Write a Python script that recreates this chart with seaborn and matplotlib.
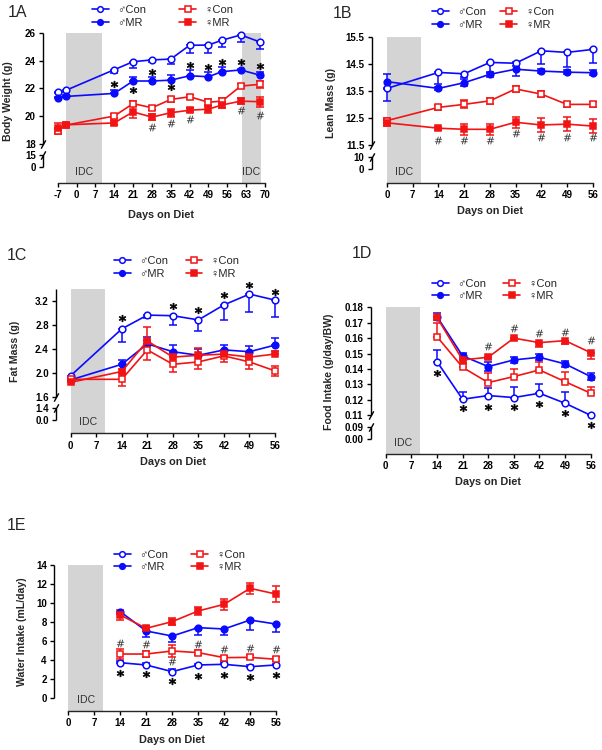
import numpy as np
import matplotlib
matplotlib.use('Agg')
import matplotlib.pyplot as plt
import seaborn as sns

# ---------------- data ----------------
series_names = ['♂Con', '♂MR', '♀Con', '♀MR']

# 1A body weight
days_a = [-7, -4, 14, 21, 28, 35, 42, 49, 54, 61, 68]
a_mcon = [21.76, 21.86, 23.36, 23.94, 24.07, 24.13, 25.13, 25.15, 25.5, 25.88, 25.38]
a_mcon_sem = [0.1, 0.1, 0.25, 0.45, 0.15, 0.35, 0.55, 0.6, 0.5, 0.5, 0.5]
a_mmr = [21.28, 21.42, 21.64, 22.54, 22.54, 22.6, 22.92, 22.85, 23.22, 23.34, 22.97]
a_mmr_sem = [0.1, 0.1, 0.25, 0.3, 0.3, 0.4, 0.4, 0.35, 0.35, 0.1, 0.25]
a_fcon = [18.95, 19.34, 20.0, 20.9, 20.6, 21.2, 21.4, 21.0, 21.08, 22.17, 22.3]
a_fcon_sem = [0.2, 0.1, 0.15, 0.2, 0.15, 0.15, 0.15, 0.2, 0.2, 0.15, 0.25]
a_fmr = [19.1, 19.36, 19.5, 20.3, 19.92, 20.24, 20.42, 20.5, 20.8, 21.08, 21.04]
a_fmr_sem = [0.4, 0.1, 0.15, 0.45, 0.2, 0.3, 0.15, 0.25, 0.25, 0.2, 0.35]
a_star_days = [14, 21, 28, 35, 42, 49, 54, 61, 68]
a_star_vals = [22.32, 21.88, 23.2, 22.08, 23.7, 23.58, 23.94, 23.94, 23.63]
a_hash_days = [28, 35, 42, 61, 68]
a_hash_vals = [19.17, 19.46, 19.75, 20.43, 20.07]

# 1B lean mass
days_b = [0, 14, 21, 28, 35, 42, 49, 56]
b_mcon = [13.59, 14.18, 14.13, 14.55, 14.52, 14.98, 14.92, 15.03]
b_mcon_sem = [0.46, 0.41, 0.1, 0.38, 0.1, 0.49, 0.53, 0.51]
b_mmr = [13.84, 13.59, 13.8, 14.11, 14.3, 14.23, 14.19, 14.17]
b_mmr_sem = [0.27, 0.05, 0.12, 0.1, 0.25, 0.08, 0.08, 0.1]
b_fcon = [12.4, 12.89, 13.0, 13.13, 13.57, 13.38, 13.0, 13.0]
b_fcon_sem = [0.1, 0.1, 0.15, 0.1, 0.1, 0.1, 0.1, 0.1]
b_fmr = [12.32, 12.12, 12.08, 12.08, 12.34, 12.24, 12.27, 12.2]
b_fmr_sem = [0.1, 0.05, 0.2, 0.2, 0.2, 0.25, 0.25, 0.25]
b_hash_days = [14, 21, 28, 35, 42, 49, 56]
b_hash_vals = [11.69, 11.69, 11.69, 11.95, 11.79, 11.79, 11.79]

# 1C fat mass
days_c = [0, 14, 21, 28, 35, 42, 49, 56]
c_mcon = [1.95, 2.73, 2.96, 2.95, 2.88, 3.13, 3.31, 3.21]
c_mcon_sem = [0.05, 0.21, 0.05, 0.16, 0.18, 0.25, 0.3, 0.28]
c_mmr = [1.88, 2.14, 2.48, 2.35, 2.29, 2.38, 2.35, 2.46]
c_mmr_sem = [0.03, 0.07, 0.12, 0.11, 0.1, 0.08, 0.1, 0.12]
c_fcon = [1.89, 1.89, 2.38, 2.14, 2.18, 2.28, 2.18, 2.03]
c_fcon_sem = [0.03, 0.11, 0.16, 0.12, 0.12, 0.1, 0.11, 0.08]
c_fmr = [1.84, 2.02, 2.53, 2.26, 2.29, 2.31, 2.26, 2.31]
c_fmr_sem = [0.03, 0.05, 0.23, 0.06, 0.13, 0.06, 0.05, 0.06]
c_star_days = [14, 28, 35, 42, 49, 56]
c_star_vals = [2.91, 3.11, 3.04, 3.29, 3.46, 3.35]

# 1D food intake
days_d = [14, 21, 28, 35, 42, 49, 56]
d_mcon = [0.1448, 0.1204, 0.1228, 0.1215, 0.1243, 0.1178, 0.1100]
d_mcon_sem = [0.0075, 0.0045, 0.005, 0.0067, 0.006, 0.007, 0.001]
d_mmr = [0.1740, 0.1485, 0.1416, 0.1459, 0.1476, 0.1433, 0.1351]
d_mmr_sem = [0.002, 0.002, 0.003, 0.002, 0.002, 0.002, 0.002]
d_fcon = [0.1610, 0.1411, 0.1312, 0.1351, 0.1394, 0.1318, 0.1243]
d_fcon_sem = [0.0086, 0.002, 0.006, 0.005, 0.0054, 0.0065, 0.004]
d_fmr = [0.1735, 0.1459, 0.1476, 0.1600, 0.1571, 0.1584, 0.1506]
d_fmr_sem = [0.002, 0.002, 0.001, 0.001, 0.003, 0.002, 0.0043]
d_star_days = [14, 21, 28, 35, 42, 49, 56]
d_star_vals = [0.1372, 0.1146, 0.1156, 0.1156, 0.1174, 0.1117, 0.093]
d_hash_days = [28, 35, 42, 49, 56]
d_hash_vals = [0.155, 0.1664, 0.1636, 0.1642, 0.1588]

# 1E water intake
days_e = [14, 21, 28, 35, 42, 49, 56]
e_mcon = [3.74, 3.5, 2.8, 3.5, 3.57, 3.32, 3.5]
e_mcon_sem = [0.15, 0.2, 0.3, 0.15, 0.2, 0.15, 0.15]
e_mmr = [9.1, 7.07, 6.54, 7.42, 7.28, 8.22, 7.8]
e_mmr_sem = [0.2, 0.6, 0.6, 0.77, 0.63, 1.0, 0.8]
e_fcon = [4.65, 4.65, 4.97, 4.8, 4.27, 4.3, 4.1]
e_fcon_sem = [0.5, 0.3, 0.6, 0.3, 0.2, 0.2, 0.2]
e_fmr = [8.75, 7.35, 8.05, 9.17, 9.87, 11.55, 10.95]
e_fmr_sem = [0.55, 0.2, 0.4, 0.4, 0.6, 0.6, 0.8]
e_star_days = [14, 21, 28, 35, 42, 49, 56]
e_star_vals = [2.62, 2.52, 1.82, 2.34, 2.45, 2.27, 2.45]
e_hash_days = [14, 21, 28, 35, 42, 49, 56]
e_hash_vals = [5.77, 5.67, 3.95, 5.67, 5.14, 5.25, 5.14]

ticks_a = [0, 15, 18, 20, 22, 24, 26]
ticklabels_a = ['0', '15', '18', '20', '22', '24', '26']
ticks_b = [0, 10, 11.5, 12.5, 13.5, 14.5, 15.5]
ticklabels_b = ['0', '10', '11.5', '12.5', '13.5', '14.5', '15.5']
ticks_c = [0, 1.4, 1.6, 2.0, 2.4, 2.8, 3.2]
ticklabels_c = ['0.0', '1.4', '1.6', '2.0', '2.4', '2.8', '3.2']
ticks_d = [0, 0.09, 0.11, 0.12, 0.13, 0.14, 0.15, 0.16, 0.17, 0.18]
ticklabels_d = ['0.00', '0.09', '0.11', '0.12', '0.13', '0.14', '0.15', '0.16', '0.17', '0.18']
ticks_e = [0, 2, 4, 6, 8, 10, 12, 14]
ticklabels_e = ['0', '2', '4', '6', '8', '10', '12', '14']

# ---------------- style ----------------
W, H = 602, 750
BLUE = '#0a0aff'
RED = '#f21414'
GREY = '#d4d4d4'

sns.set_style('ticks')
plt.rcParams['font.family'] = ['Liberation Sans', 'DejaVu Sans']
plt.rcParams['axes.linewidth'] = 1.0

styles = {
    '♂Con': dict(color=BLUE, marker='o', mfc='white', ms=4.8),
    '♂MR': dict(color=BLUE, marker='o', mfc=BLUE, ms=4.8),
    '♀Con': dict(color=RED, marker='s', mfc='white', ms=4.4),
    '♀MR': dict(color=RED, marker='s', mfc=RED, ms=4.4),
}

fig = plt.figure(figsize=(W / 100, H / 100), dpi=100)


def make_scale(vals, rows):
    # piecewise linear y scale so that the broken axis segments get their own spacing
    v = np.asarray(vals, float)
    u = -np.asarray(rows, float)
    s0 = (u[1] - u[0]) / (v[1] - v[0])
    s1 = (u[-1] - u[-2]) / (v[-1] - v[-2])
    big = 1000 * (v[-1] - v[0])
    vv = np.r_[v[0] - big, v, v[-1] + big]
    uu = np.r_[u[0] - big * s0, u, u[-1] + big * s1]
    return (lambda y: np.interp(y, vv, uu)), (lambda t: np.interp(t, uu, vv))


def draw_panel(p):
    fwd, inv = make_scale(p['anchor_v'], p['anchor_px'])
    top_px = -float(fwd(p['top']))
    bot_px = p['xaxis_px']
    left_px, right_px = p['spine_px'], p['x1_px']
    ax = fig.add_axes([left_px / W, 1 - bot_px / H,
                       (right_px - left_px) / W, (bot_px - top_px) / H])
    ax.set_yscale('function', functions=(fwd, inv))
    xt = p['xticks']
    ppd = (p['x1_px'] - p['x0_px']) / (xt[-1] - xt[0])
    xlo = xt[0] - (p['x0_px'] - left_px) / ppd

    for x0, x1 in p['idc']:
        ax.axvspan(x0, x1, color=GREY, lw=0, zorder=0)
        ax.annotate('IDC', xy=((x0 + x1) / 2, 0), xycoords=('data', 'axes fraction'),
                    xytext=(0, 8), textcoords='offset points', ha='center', va='center',
                    fontsize=7.6, color='#333333')

    for name, vals, sem, direction in p['series']:
        st = styles[name]
        sem = np.asarray(sem)
        lo = sem if direction in ('lower', 'both') else np.zeros_like(sem)
        hi = sem if direction in ('upper', 'both') else np.zeros_like(sem)
        ax.errorbar(p['days'], vals, yerr=[lo, hi], fmt='none', ecolor=st['color'],
                    elinewidth=1.1, capsize=3.2, capthick=1.1, zorder=3, clip_on=False)
        sns.lineplot(x=p['days'], y=vals, ax=ax, color=st['color'], marker=st['marker'],
                     markersize=st['ms'], markerfacecolor=st['mfc'],
                     markeredgecolor=st['color'], markeredgewidth=1.1, linewidth=1.2,
                     label=name, errorbar=None, zorder=4, clip_on=False)

    if p.get('stars'):
        ax.plot(p['stars'][0], p['stars'][1], ls='none', marker='$\\mathbf{*}$', ms=5,
                mew=0.4, color='black', zorder=5, clip_on=False)
    if p.get('hashes'):
        ax.plot(p['hashes'][0], p['hashes'][1], ls='none', marker='$\\#$', ms=5.5,
                mew=0, color='#333333', zorder=5, clip_on=False)

    ax.set_xlim(xlo, xt[-1])
    ax.set_ylim(float(inv(-bot_px)), p['top'])

    for s in ['top', 'right', 'left']:
        ax.spines[s].set_visible(False)
    ax.spines['bottom'].set_bounds(xt[0], xt[-1])
    ytr = ax.get_yaxis_transform()
    for lo_v, hi_v in p['segments']:
        ax.plot([0, 0], [lo_v, hi_v], transform=ytr, color='black', lw=1.0,
                clip_on=False, solid_capstyle='butt')
    for v in p['breaks']:
        ax.plot([0], [v], transform=ytr, marker=[(-0.55, -1), (0.55, 1)], ms=6,
                mew=1.0, color='black', ls='none', clip_on=False)

    ax.set_xticks(xt)
    ax.set_xticklabels([str(t) for t in xt], fontweight='bold')
    ax.set_yticks(p['yticks'])
    ax.set_yticklabels(p['yticklabels'], fontweight='bold')
    ax.minorticks_off()
    ax.tick_params(axis='both', length=3, width=1, labelsize=7.0, pad=2.2, colors='black')

    hgt = bot_px - top_px
    wid = right_px - left_px
    ax.set_xlabel('Days on Diet', fontweight='bold', fontsize=7.8, va='center')
    ax.xaxis.set_label_coords(((p['x0_px'] + p['x1_px']) / 2 - left_px) / wid,
                              (bot_px - p['xlabel_y']) / hgt)
    ax.set_ylabel(p['ylabel'], fontweight='bold', fontsize=7.6, va='center', ha='center')
    ax.yaxis.set_label_coords((p['ylabel_xy'][0] - left_px) / wid,
                              (bot_px - p['ylabel_xy'][1]) / hgt)

    handles, labels = ax.get_legend_handles_labels()
    lx, ly = p['legend_xy']
    ax.legend(handles, labels, ncol=2, loc='upper left', bbox_to_anchor=(lx / W, 1 - ly / H),
              bbox_transform=fig.transFigure, frameon=False, fontsize=8, handlelength=1.5,
              handletextpad=0.75, columnspacing=p['colspace'], labelspacing=0.25,
              borderpad=0, borderaxespad=0, numpoints=1, markerscale=0.85)

    fig.text(p['label_xy'][0] / W, 1 - p['label_xy'][1] / H, p['label'],
             fontsize=11.5, ha='left', va='center')


week = list(range(0, 57, 7))
panels = [
    dict(label='1A', label_xy=(8, 12.7), days=days_a, ylabel='Body Weight (g)',
         series=[('♂Con', a_mcon, a_mcon_sem, 'lower'), ('♂MR', a_mmr, a_mmr_sem, 'upper'),
                 ('♀Con', a_fcon, a_fcon_sem, 'both'), ('♀MR', a_fmr, a_fmr_sem, 'both')],
         xticks=list(range(-7, 71, 7)), spine_px=43, x0_px=57.7, x1_px=265,
         anchor_v=[0, 15, 18, 26], anchor_px=[166.7, 155, 143.6, 33.3], top=26,
         xaxis_px=182.7, segments=[(0, 15), (18, 26)], breaks=[15, 18],
         yticks=ticks_a, yticklabels=ticklabels_a, idc=[(-4, 9.4), (61.4, 68.5)],
         legend_xy=(92, 5), colspace=3.0, ylabel_xy=(7.5, 101), xlabel_y=215,
         stars=(a_star_days, a_star_vals), hashes=(a_hash_days, a_hash_vals)),
    dict(label='1B', label_xy=(333, 13), days=days_b, ylabel='Lean Mass (g)',
         series=[('♂Con', b_mcon, b_mcon_sem, 'lower'), ('♂MR', b_mmr, b_mmr_sem, 'both'),
                 ('♀Con', b_fcon, b_fcon_sem, 'both'), ('♀MR', b_fmr, b_fmr_sem, 'both')],
         xticks=week, spine_px=371.7, x0_px=387, x1_px=592.7,
         anchor_v=[0, 10, 11.5, 15.5], anchor_px=[169, 156.7, 145, 36.7], top=15.5,
         xaxis_px=182.7, segments=[(0, 10), (11.5, 15.5)], breaks=[10, 11.5],
         yticks=ticks_b, yticklabels=ticklabels_b, idc=[(0, 9.3)],
         legend_xy=(432, 7), colspace=1.3, ylabel_xy=(331, 103), xlabel_y=210.7,
         hashes=(b_hash_days, b_hash_vals)),
    dict(label='1C', label_xy=(7, 255), days=days_c, ylabel='Fat Mass (g)',
         series=[('♂Con', c_mcon, c_mcon_sem, 'lower'), ('♂MR', c_mmr, c_mmr_sem, 'upper'),
                 ('♀Con', c_fcon, c_fcon_sem, 'both'), ('♀MR', c_fmr, c_fmr_sem, 'upper')],
         xticks=week, spine_px=56, x0_px=70.7, x1_px=275,
         anchor_v=[0, 1.4, 1.6, 3.2], anchor_px=[420.3, 408.3, 396.7, 300.7], top=3.4,
         xaxis_px=433.3, segments=[(0, 1.4), (1.6, 3.4)], breaks=[1.4, 1.6],
         yticks=ticks_c, yticklabels=ticklabels_c, idc=[(0, 9.4)],
         legend_xy=(114, 256.3), colspace=1.6, ylabel_xy=(15, 351), xlabel_y=462.3,
         stars=(c_star_days, c_star_vals)),
    dict(label='1D', label_xy=(352, 253.5), days=days_d, ylabel='Food Intake (g/day/BW)',
         series=[('♂Con', d_mcon, d_mcon_sem, 'upper'), ('♂MR', d_mmr, d_mmr_sem, 'both'),
                 ('♀Con', d_fcon, d_fcon_sem, 'upper'), ('♀MR', d_fmr, d_fmr_sem, 'lower')],
         xticks=week, spine_px=370.7, x0_px=385.7, x1_px=590.7,
         anchor_v=[0, 0.09, 0.11, 0.18], anchor_px=[439, 426.7, 415.3, 307.3], top=0.18,
         xaxis_px=454, segments=[(0, 0.09), (0.11, 0.18)], breaks=[0.09, 0.11],
         yticks=ticks_d, yticklabels=ticklabels_d, idc=[(0, 9.4)],
         legend_xy=(432, 278.6), colspace=1.55, ylabel_xy=(329, 372), xlabel_y=482.3,
         stars=(d_star_days, d_star_vals), hashes=(d_hash_days, d_hash_vals)),
    dict(label='1E', label_xy=(7, 525), days=days_e, ylabel='Water Intake (mL/day)',
         series=[('♂Con', e_mcon, e_mcon_sem, 'upper'), ('♂MR', e_mmr, e_mmr_sem, 'lower'),
                 ('♀Con', e_fcon, e_fcon_sem, 'both'), ('♀MR', e_fmr, e_fmr_sem, 'both')],
         xticks=week, spine_px=54, x0_px=68.3, x1_px=276,
         anchor_v=[0, 14], anchor_px=[698.3, 565], top=14,
         xaxis_px=710.7, segments=[(0, 14)], breaks=[],
         yticks=ticks_e, yticklabels=ticklabels_e, idc=[(0, 9.4)],
         legend_xy=(114, 549.6), colspace=2.1, ylabel_xy=(22, 632), xlabel_y=740,
         stars=(e_star_days, e_star_vals), hashes=(e_hash_days, e_hash_vals)),
]

for p in panels:
    draw_panel(p)

fig.savefig('out.png', dpi=100, facecolor='white')
